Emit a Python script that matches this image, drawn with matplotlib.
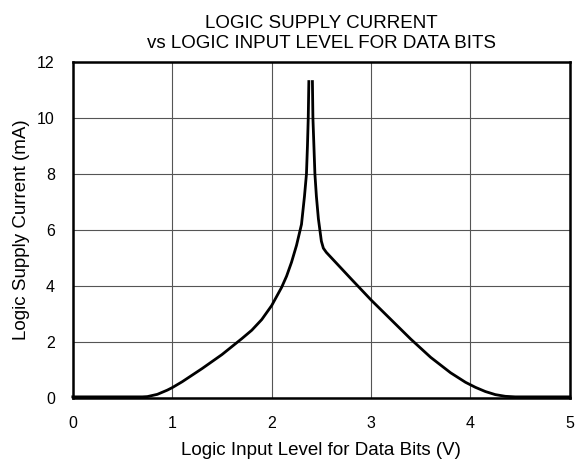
import matplotlib.pyplot as plt

plt.rcParams['font.family'] = ['Liberation Sans', 'DejaVu Sans']

# Curve (V, mA); rising side up to the peak
rise_level = [0.0, 0.70, 0.75, 0.85, 0.95, 1.00, 1.10, 1.30, 1.50, 1.70, 1.80,
              1.90, 2.00, 2.10, 2.15, 2.20, 2.25, 2.30, 2.33, 2.35, 2.36, 2.368, 2.374]
rise_current = [0.04, 0.04, 0.05, 0.13, 0.28, 0.37, 0.58, 1.05, 1.55, 2.12, 2.42,
                2.80, 3.30, 3.95, 4.35, 4.85, 5.45, 6.20, 7.20, 8.00, 9.00, 10.0, 11.3]

# falling side from the peak down
fall_level = [2.41, 2.415, 2.425, 2.435, 2.45, 2.47, 2.485, 2.50, 2.52, 2.55,
              2.80, 3.00, 3.20, 3.40, 3.60, 3.80, 3.95, 4.05, 4.15, 4.25, 4.35, 4.45, 5.0]
fall_current = [11.3, 10.0, 9.00, 8.00, 7.20, 6.40, 6.00, 5.60, 5.35, 5.20,
                4.25, 3.50, 2.80, 2.10, 1.45, 0.90, 0.56, 0.38, 0.23, 0.12, 0.06, 0.04, 0.04]

x_ticks = [0, 1, 2, 3, 4, 5]
y_ticks = [0, 2, 4, 6, 8, 10, 12]

fig = plt.figure(figsize=(5.78, 4.68), dpi=100)
ax = fig.add_axes([0.126, 0.1496, 0.86, 0.718])

ax.plot(rise_level, rise_current, color='black', lw=2, clip_on=False, zorder=3)
ax.plot(fall_level, fall_current, color='black', lw=2, clip_on=False, zorder=3)

ax.set_xlim(0, 5)
ax.set_ylim(0, 12)
ax.set_xticks(x_ticks)
ax.set_yticks(y_ticks)
ax.grid(True, color='#555555', lw=0.8)
ax.tick_params(length=0, labelsize=11.5, pad=13)
for s in ax.spines.values():
    s.set_linewidth(1.8)

ax.set_xlabel('Logic Input Level for Data Bits (V)', fontsize=13.5, labelpad=8)
ax.set_ylabel('Logic Supply Current (mA)', fontsize=13.5, labelpad=5)
ax.set_title('LOGIC SUPPLY CURRENT\nvs LOGIC INPUT LEVEL FOR DATA BITS',
             fontsize=13.5, pad=10, linespacing=1.2)

fig.savefig('out.png', dpi=100)
